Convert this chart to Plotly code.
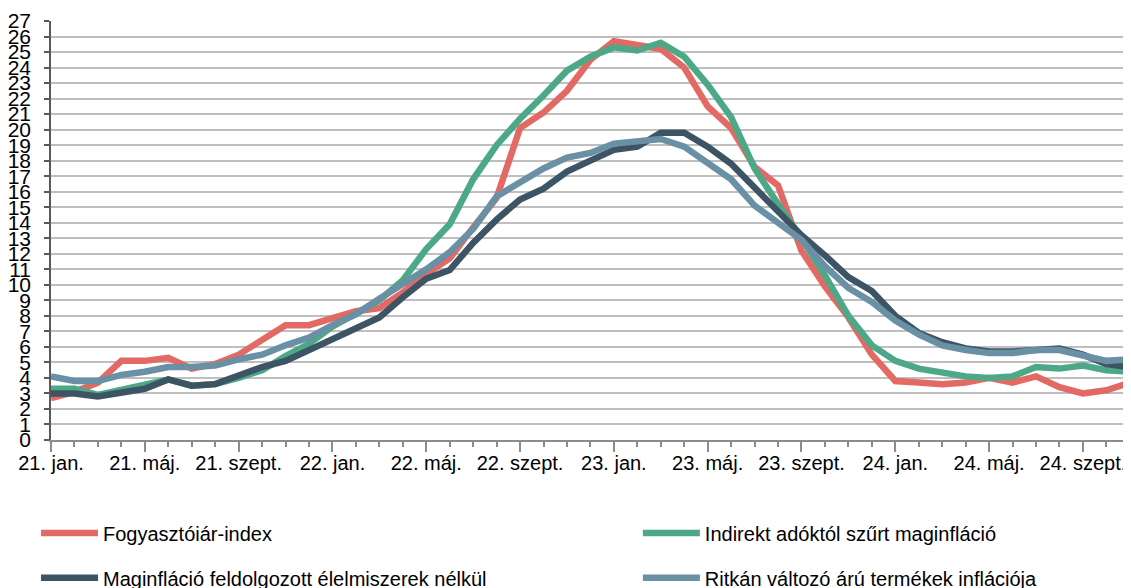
import plotly.graph_objects as go

months = [f"{y}-{m:02d}" for y in (2021, 2022, 2023, 2024) for m in range(1, 13)][:47]
tick_labels = ["21. jan.", "21. máj.", "21. szept.", "22. jan.", "22. máj.", "22. szept.",
               "23. jan.", "23. máj.", "23. szept.", "24. jan.", "24. máj.", "24. szept."]

cpi = [2.7, 3.1, 3.7, 5.1, 5.1, 5.3, 4.6, 4.9, 5.5, 6.5, 7.4, 7.4,
       7.9, 8.3, 8.5, 9.5, 10.7, 11.7, 13.7, 15.6, 20.1, 21.1, 22.5, 24.5,
       25.7, 25.4, 25.2, 24.0, 21.5, 20.1, 17.6, 16.4, 12.2, 9.9, 7.9, 5.5,
       3.8, 3.7, 3.6, 3.7, 4.0, 3.7, 4.1, 3.4, 3.0, 3.2, 3.7]
core_tax = [3.3, 3.3, 2.9, 3.2, 3.5, 3.9, 3.5, 3.6, 4.0, 4.5, 5.4, 6.2,
            7.3, 8.1, 9.0, 10.3, 12.3, 13.9, 16.8, 19.0, 20.7, 22.2, 23.8, 24.7,
            25.3, 25.1, 25.6, 24.7, 22.9, 20.8, 17.5, 15.2, 13.0, 10.6, 8.0, 6.1,
            5.1, 4.6, 4.3, 4.1, 4.0, 4.1, 4.7, 4.6, 4.8, 4.5, 4.4]
core_nofood = [3.0, 3.0, 2.8, 3.0, 3.3, 3.9, 3.5, 3.6, 4.2, 4.7, 5.1, 5.8,
               6.4, 7.1, 7.9, 9.2, 10.4, 10.95, 12.7, 14.2, 15.5, 16.2, 17.3, 18.0,
               18.7, 18.9, 19.8, 19.8, 18.9, 17.8, 16.3, 14.8, 13.2, 11.9, 10.5, 9.6,
               8.0, 6.9, 6.3, 5.9, 5.7, 5.7, 5.8, 5.9, 5.5, 4.9, 4.7]
sticky = [4.1, 3.8, 3.8, 4.2, 4.4, 4.7, 4.7, 4.8, 5.2, 5.5, 6.1, 6.6,
          7.4, 8.1, 9.1, 10.0, 11.0, 12.1, 13.6, 15.7, 16.6, 17.5, 18.2, 18.5,
          19.1, 19.3, 19.4, 18.9, 17.9, 16.8, 15.1, 14.0, 12.9, 11.2, 9.8, 8.9,
          7.7, 6.8, 6.1, 5.8, 5.6, 5.6, 5.8, 5.8, 5.5, 5.1, 5.2]

names = ["Fogyasztóiár-index", "Indirekt adóktól szűrt maginfláció",
         "Maginfláció feldolgozott élelmiszerek nélkül", "Ritkán változó árú termékek inflációja"]
colors = ["#E36A64", "#4DA887", "#3C5464", "#6A90A6"]
series = [cpi, core_tax, core_nofood, sticky]
legend_ids = ["legend", "legend2", "legend3", "legend4"]

FONT = "Arial, 'Liberation Sans', sans-serif"
x = list(range(len(months)))

fig = go.Figure()
for name, col, vals, lg in zip(names, colors, series, legend_ids):
    fig.add_trace(go.Scatter(x=x, y=vals, name=name, mode="lines",
                             line=dict(color=col, width=6.5), legend=lg,
                             customdata=months,
                             hovertemplate="%{customdata}: %{y}<extra>" + name + "</extra>"))

legend_common = dict(orientation="h", xanchor="left", yanchor="middle",
                     font=dict(family=FONT, size=20, color="black"),
                     bgcolor="rgba(0,0,0,0)", itemwidth=57)

# legend positions (paper coords): column 1 / column 2, row 1 / row 2
col_x = [-0.0139, 0.5434]
row_y = [-0.222, -0.329]
pos = [(col_x[0], row_y[0]), (col_x[1], row_y[0]), (col_x[0], row_y[1]), (col_x[1], row_y[1])]

layout_legends = {lg: dict(x=px, y=py, **legend_common) for lg, (px, py) in zip(legend_ids, pos)}

# page has an 8px body margin, so the figure is sized to the visible area
fig.update_layout(
    width=1123, height=580,
    margin=dict(l=43, r=0, t=13, b=148, autoexpand=False),
    paper_bgcolor="white", plot_bgcolor="white",
    font=dict(family=FONT, size=20, color="black"),
    showlegend=True,
    **layout_legends,
    xaxis=dict(range=[0, 46.05], tickmode="array", tickvals=list(range(0, 45, 4)),
               ticktext=tick_labels, ticks="outside", ticklen=10, tickcolor="#8C8C8C",
               tickwidth=1.5, showline=True, linecolor="#8C8C8C", linewidth=1.5,
               showgrid=False, zeroline=False, automargin=False, ticklabelstandoff=-6,
               minor=dict(dtick=1, tick0=0, ticks="outside", ticklen=5, tickcolor="#8C8C8C",
                          tickwidth=1.5, showgrid=False),
               tickfont=dict(family=FONT, size=20, color="black")),
    yaxis=dict(range=[0, 27], dtick=1, tick0=0, ticks="outside", ticklen=5,
               tickcolor="#595959", tickwidth=1.5, showline=True, linecolor="#595959",
               linewidth=1.5, showgrid=True, gridcolor="#BFBFBF", gridwidth=2,
               zeroline=False, ticklabelstandoff=9, automargin=False,
               tickfont=dict(family=FONT, size=21, color="black")),
)

fig.write_html("out.html")
